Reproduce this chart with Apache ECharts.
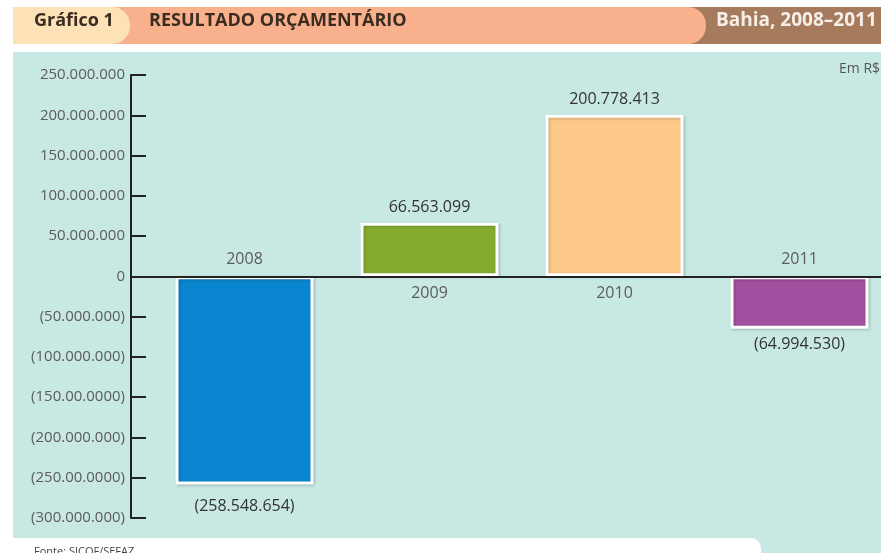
<!DOCTYPE html>
<html>
<head>
<meta charset="utf-8">
<script src="https://cdn.jsdelivr.net/npm/echarts@6/dist/echarts.min.js"></script>
<style>
  html, body { margin: 0; padding: 0; background: #fff; }
  #chart { width: 881px; height: 553px; }
</style>
</head>
<body>
<div id="chart"></div>
<script>
// dados do gráfico
const anos = ['2008', '2009', '2010', '2011']
const resultado = [-258548654, 66563099, 200778413, -64994530]
const cores = ['#0a86d0', '#86ab2f', '#fdc98a', '#a1519f']

// eixo y (rótulos como no original)
const yMin = -300000000
const yMax = 250000000
const yStep = 50000000
const yTickLabels = [
    '(300.000.000)', '(250.00.0000)', '(200.000.000)', '(150.00.0000)',
    '(100.000.000)', '(50.000.000)', '0', '50.000.000', '100.000.000',
    '150.000.000', '200.000.000', '250.000.000'
]

const FONT = 'Open Sans'

function fmt(v) {
    const s = Math.abs(v).toString().replace(/\B(?=(\d{3})+(?!\d))/g, '.')
    return v < 0 ? '(' + s + ')' : s
}

const labelGap = [14, 7, 7, 8]

const EC = echarts.init(document.getElementById('chart'))

const option = {
    animation: false,
    backgroundColor: '#fff',
    grid: [
        { left: 131, right: 0, top: 75, bottom: 35 },
        // grade das barras passa da borda direita (imagem cortada)
        { left: 152, width: 740, top: 75, bottom: 35, outerBoundsMode: 'none' }
    ],
    xAxis: [
        {
            gridIndex: 0, type: 'value', min: 0, max: 1, z: 5,
            axisLine: { show: true, onZero: true, lineStyle: { color: '#222', width: 2 } },
            axisTick: { show: false }, axisLabel: { show: false }, splitLine: { show: false }
        },
        {
            gridIndex: 1, type: 'category', data: anos,
            axisLine: { show: false }, axisTick: { show: false }, axisLabel: { show: false }
        }
    ],
    yAxis: [
        {
            gridIndex: 0, type: 'value', min: yMin, max: yMax, interval: yStep, z: 5,
            axisLine: { show: true, lineStyle: { color: '#222', width: 2 } },
            axisTick: { show: true, inside: true, length: 15, lineStyle: { color: '#222', width: 2 } },
            splitLine: { show: false },
            axisLabel: {
                margin: 6, color: '#5c5c5c', fontFamily: FONT, fontSize: 15,
                formatter: v => yTickLabels[Math.round((v - yMin) / yStep)]
            }
        },
        {
            gridIndex: 1, type: 'value', min: yMin, max: yMax, interval: yStep, show: false
        }
    ],
    series: [
        {
            name: 'Resultado',
            type: 'bar',
            xAxisIndex: 1, yAxisIndex: 1,
            barWidth: 138,
            data: resultado.map((v, i) => ({
                value: v,
                itemStyle: { color: cores[i] },
                label: { position: v < 0 ? 'bottom' : 'top', distance: labelGap[i] }
            })),
            itemStyle: {
                borderColor: '#fff', borderWidth: 3,
                shadowColor: 'rgba(0,0,0,0.2)', shadowBlur: 3, shadowOffsetX: 1, shadowOffsetY: 1
            },
            label: {
                show: true, color: '#333', fontFamily: FONT, fontSize: 16,
                formatter: p => fmt(p.value)
            }
        },
        {
            name: 'Ano',
            type: 'bar',
            xAxisIndex: 1, yAxisIndex: 1,
            barWidth: 138, barGap: '-100%',
            data: resultado.map(v => ({
                value: 0,
                label: { position: v < 0 ? 'top' : 'bottom' }
            })),
            itemStyle: { color: 'transparent' },
            label: {
                show: true, distance: 9, color: '#5c5c5c', fontFamily: FONT, fontSize: 16,
                formatter: p => p.name
            }
        }
    ],
    graphic: [
        // fundo
        { type: 'rect', z: -10, shape: { x: 13, y: 52, width: 868, height: 501 }, style: { fill: '#c8e8e3' } },
        { type: 'rect', z: -9, shape: { x: 13, y: 538, width: 748, height: 20, r: [0, 10, 0, 0] }, style: { fill: '#fff' } },
        // cabeçalho
        { type: 'rect', z: -8, shape: { x: 680, y: 7, width: 201, height: 37 }, style: { fill: '#a67b5d' } },
        { type: 'rect', z: -7, shape: { x: 100, y: 7, width: 606, height: 37, r: [0, 18, 18, 0] }, style: { fill: '#f8b18c' } },
        { type: 'rect', z: -6, shape: { x: 13, y: 7, width: 117, height: 37, r: [0, 18, 18, 0] }, style: { fill: '#fde2b8' } },
        { type: 'text', z: 10, left: 34, top: 12, style: { text: 'Gráfico 1', fill: '#3b2c22', font: 'bold 18px "Open Sans"' } },
        { type: 'text', z: 10, left: 149, top: 12, style: { text: 'RESULTADO ORÇAMENTÁRIO', fill: '#3b2c22', font: 'bold 18px "Open Sans"' } },
        { type: 'text', z: 10, left: 716, top: 11, style: { text: 'Bahia, 2008–2011', fill: '#f6efe8', font: 'bold 19px "Open Sans"' } },
        { type: 'text', z: 10, left: 839, top: 62, style: { text: 'Em R$', fill: '#555', font: '14px "Open Sans"' } },
        { type: 'text', z: 10, left: 34, top: 546, style: { text: 'Fonte: SICOF/SEFAZ', fill: '#444', font: '11px "Open Sans"' } }
    ]
}

EC.setOption(option)
</script>
</body>
</html>
